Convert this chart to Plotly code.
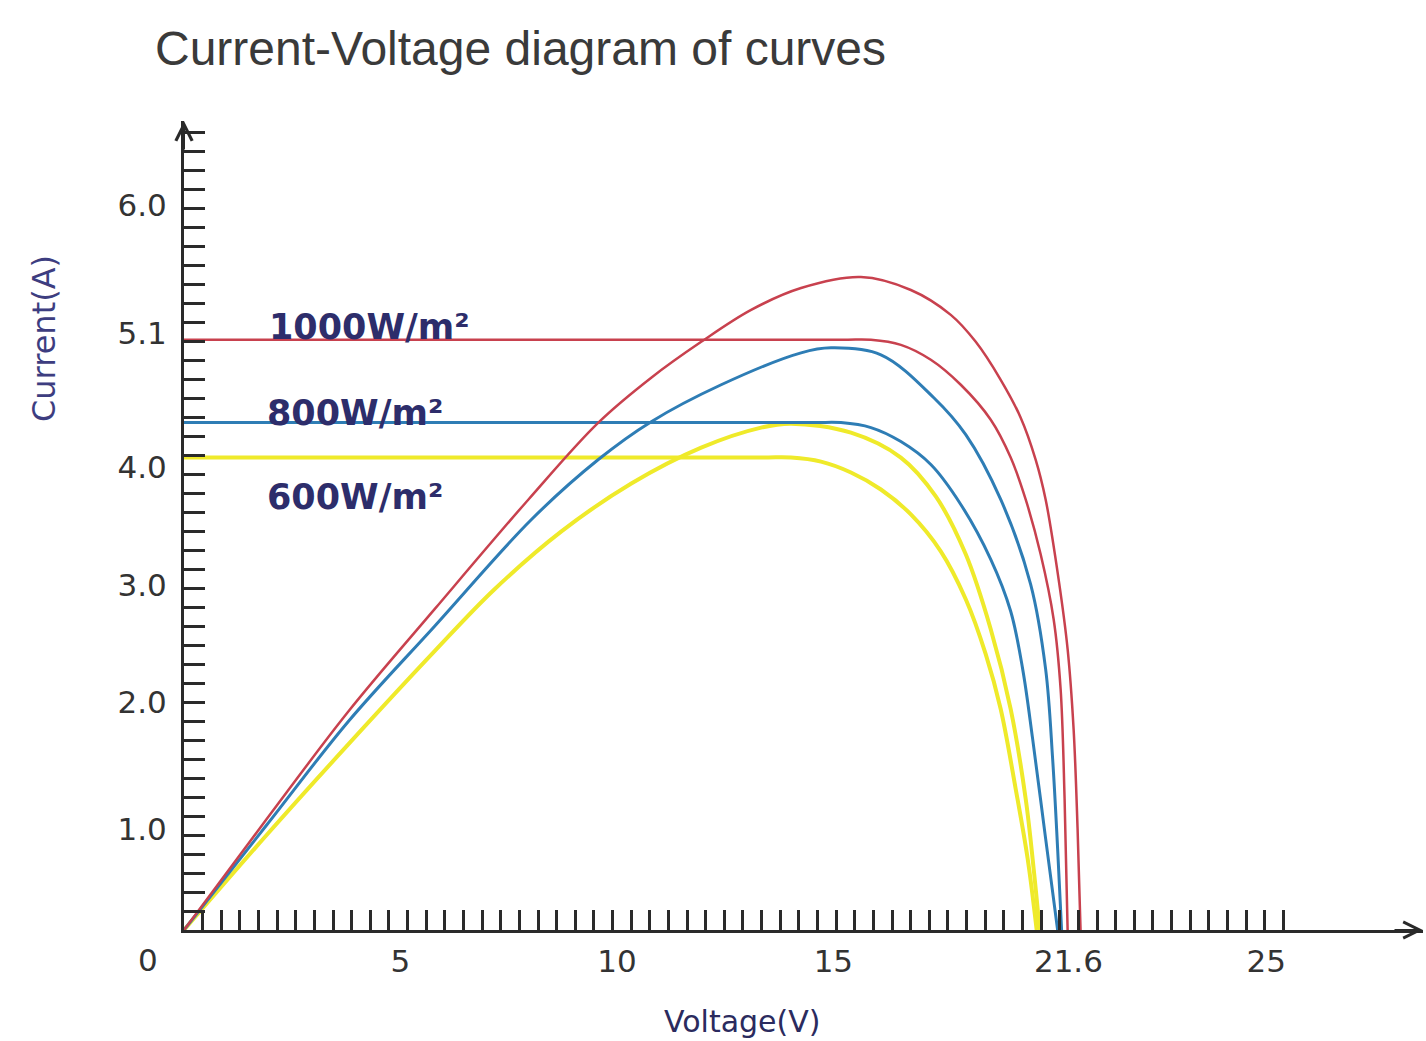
import plotly.graph_objects as go

# ---------------- data (Voltage in V, Current in A) ----------------
# 1000 W/m2 (red): I-V curve and scaled power curve
red_iv_v = [0, 15.175, 15.867, 16.559, 17.251, 17.943, 18.635, 19.096, 19.442, 19.788, 20.088, 20.249, 20.341, 20.411]
red_iv_i = [5.10, 5.10, 5.10, 5.056, 4.927, 4.711, 4.409, 4.082, 3.720, 3.246, 2.685, 2.082, 1.134, 0.0]
red_p_v = [0, 1.914, 3.805, 5.789, 7.957, 9.571, 10.793, 11.947, 13.100, 14.253, 15.636, 16.790,
           17.712, 18.289, 18.865, 19.327, 19.672, 19.903, 20.203, 20.411, 20.549, 20.641, 20.710]
red_p_i = [0, 0.961, 1.892, 2.772, 3.720, 4.384, 4.772, 5.082, 5.358, 5.547, 5.642, 5.530,
           5.315, 5.082, 4.754, 4.427, 4.065, 3.720, 3.030, 2.427, 1.737, 0.875, 0.0]

# 800 W/m2 (blue)
blue_iv_v = [0, 14.483, 15.175, 15.867, 16.559, 17.251, 17.943, 18.635, 19.096, 19.373, 19.603, 19.903, 20.180]
blue_iv_i = [4.384, 4.384, 4.384, 4.341, 4.220, 4.022, 3.677, 3.203, 2.754, 2.254, 1.651, 0.789, 0.0]
blue_p_v = [0, 1.914, 3.805, 5.789, 8.026, 9.571, 10.793, 12.408, 14.253, 14.945, 16.098, 17.320,
            18.058, 18.865, 19.557, 19.903, 20.065, 20.180, 20.272]
blue_p_i = [0, 0.909, 1.806, 2.625, 3.547, 4.065, 4.392, 4.711, 4.987, 5.030, 4.970, 4.599,
            4.280, 3.720, 2.987, 2.254, 1.478, 0.703, 0.0]

# 600 W/m2 (yellow)
yel_iv_v = [0, 13.330, 14.022, 14.714, 15.406, 16.098, 16.790, 17.481, 18.058, 18.519, 18.865, 19.211, 19.488, 19.696]
yel_iv_i = [4.082, 4.082, 4.082, 4.047, 3.953, 3.806, 3.591, 3.272, 2.858, 2.384, 1.909, 1.220, 0.616, 0.0]
yel_p_v = [0, 1.914, 3.805, 5.789, 7.173, 8.718, 10.332, 11.947, 13.330, 14.022, 15.406, 16.559,
           17.366, 18.058, 18.635, 19.096, 19.442, 19.626, 19.765]
yel_p_i = [0, 0.823, 1.608, 2.409, 2.944, 3.444, 3.858, 4.168, 4.341, 4.375, 4.297, 4.082,
           3.746, 3.246, 2.599, 1.909, 1.134, 0.530, 0.0]

# tick labels
x_tick_vals = [5, 10, 15, 20.43, 25]
x_tick_text = ["5", "10", "15", "21.6", "25"]
y_tick_vals = [0.875, 1.97, 2.98, 4.0, 5.16, 6.26]
y_tick_text = ["1.0", "2.0", "3.0", "4.0", "5.1", "6.0"]

irradiance_labels = ["1000W/m²", "800W/m²", "600W/m²"]

# ---------------- layout constants ----------------
W, H = 1426, 1041
L, R, T, B = 184, 3, 121, 111
X_MAX = 28.62
Y_MAX = 6.99
X_STEP = 0.4304   # comb tick spacing on x
Y_STEP = 0.164    # comb tick spacing on y
x_comb = [round(k * X_STEP, 4) for k in range(1, 60)]
y_comb = [round(k * Y_STEP, 4) for k in range(1, 43)]

RED = "#c8414e"
BLUE = "#2e7db5"
YEL = "#efea2a"
AXC = "#2a2a2a"

fig = go.Figure()

def add(v, i, color, width):
    fig.add_trace(go.Scatter(x=v, y=i, mode="lines",
                             line=dict(color=color, width=width, shape="spline", smoothing=1.0),
                             hoverinfo="skip", cliponaxis=False))

add(yel_iv_v, yel_iv_i, YEL, 4)
add(yel_p_v, yel_p_i, YEL, 4)
add(blue_iv_v, blue_iv_i, BLUE, 3)
add(blue_p_v, blue_p_i, BLUE, 3)
add(red_iv_v, red_iv_i, RED, 2.5)
add(red_p_v, red_p_i, RED, 2.5)

pw = W - L - R
ph = H - T - B

def px_x(px):
    return (px - L) / pw

def px_y(py):
    return (H - B - py) / ph

annotations = []
# irradiance labels
lab_pos = [(1.91, 5.21), (1.87, 4.47), (1.87, 3.74)]
for txt, (xv, yv) in zip(irradiance_labels, lab_pos):
    annotations.append(dict(x=xv, y=yv, xref="x", yref="y", text=txt, showarrow=False,
                            xanchor="left", yanchor="middle",
                            font=dict(family="DejaVu Sans", size=35, color="#2d2d6b", weight="bold")))
# origin label
annotations.append(dict(x=0, y=0, xref="x", yref="y", text="0", showarrow=False,
                        xshift=-36, yshift=-30, xanchor="center", yanchor="middle",
                        font=dict(family="DejaVu Sans", size=31, color="#333333")))
# axis titles
annotations.append(dict(x=px_x(44), y=px_y(339), xref="paper", yref="paper", text="Current(A)",
                        showarrow=False, textangle=-90, xanchor="center", yanchor="middle",
                        font=dict(family="DejaVu Sans", size=32, color="#3d3d80")))
annotations.append(dict(x=px_x(742), y=px_y(1021), xref="paper", yref="paper", text="Voltage(V)",
                        showarrow=False, xanchor="center", yanchor="middle",
                        font=dict(family="DejaVu Sans", size=30, color="#2b2b5e")))
# axis arrows
annotations.append(dict(x=X_MAX, y=0, xref="x", yref="y", ax=-30, ay=0, text="",
                        showarrow=True, arrowhead=5, arrowsize=1.6, arrowwidth=2, arrowcolor=AXC))
annotations.append(dict(x=0, y=Y_MAX, xref="x", yref="y", ax=0, ay=30, text="",
                        showarrow=True, arrowhead=5, arrowsize=1.6, arrowwidth=2, arrowcolor=AXC))

fig.update_layout(
    width=W, height=H,
    margin=dict(l=L, r=R, t=T, b=B, pad=0),
    paper_bgcolor="white", plot_bgcolor="white",
    showlegend=False,
    title=dict(text="Current-Voltage diagram of curves", x=155 / W, xref="container", xanchor="left",
               y=1 - 48 / H, yref="container", yanchor="middle",
               font=dict(family="Liberation Sans, Arial", size=48, color="#3a3a3a")),
    xaxis=dict(range=[0, X_MAX], showline=True, linecolor=AXC, linewidth=3, showgrid=False,
               zeroline=False, tickmode="array", tickvals=x_tick_vals, ticktext=x_tick_text,
               ticks="inside", ticklen=0, tickwidth=1, ticklabelstandoff=2,
               tickfont=dict(family="DejaVu Sans", size=31, color="#333333"),
               minor=dict(tickmode="array", tickvals=x_comb, ticks="inside", ticklen=20,
                          tickwidth=2.5, tickcolor=AXC, showgrid=False)),
    yaxis=dict(range=[0, Y_MAX], showline=True, linecolor=AXC, linewidth=3, showgrid=False,
               zeroline=False, tickmode="array", tickvals=y_tick_vals, ticktext=y_tick_text,
               ticks="inside", ticklen=0, tickwidth=1, ticklabelstandoff=8,
               tickfont=dict(family="DejaVu Sans", size=31, color="#333333"),
               minor=dict(tickmode="array", tickvals=y_comb, ticks="inside", ticklen=21,
                          tickwidth=3, tickcolor=AXC, showgrid=False)),
    annotations=annotations,
)

fig.write_html("out.html", config={"displayModeBar": False},
               post_script="document.body.style.margin='0px';")
